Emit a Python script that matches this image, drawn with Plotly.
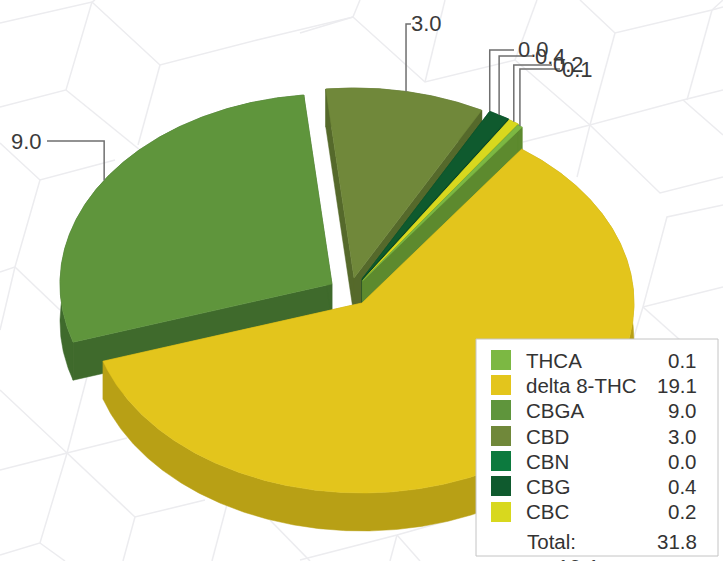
import numpy as np
import plotly.graph_objects as go

# ---- data ----
names = ["THCA", "delta 8-THC", "CBGA", "CBD", "CBN", "CBG", "CBC"]
values = [0.1, 19.1, 9.0, 3.0, 0.0, 0.4, 0.2]
labels = ["0.1", "19.1", "9.0", "3.0", "0.0", "0.4", "0.2"]
total_label = "31.8"

# ---- style ----
W, H = 723, 561
CX, CY, RX, RY = 362, 303, 272, 190   # pie centre and the tilted radii (px)
DEPTH = 38 / RY
START_ANGLE = 34.8                    # clockwise from the top
top_col = ["#7cb843", "#e3c51c", "#5f953c", "#70883a", "#0c7a3e", "#0f5a2e", "#d8d81e"]
rim_col = ["#5d8a2e", "#b8a015", "#3f6a2c", "#55692b", "#0a5a2e", "#0b4424", "#a8a818"]
wall_col = ["#5d8a2e", "#b8a015", "#3f6a2c", "#55692b", "#0a5a2e", "#0b4424", "#a8a818"]
# explosion of every slice, px
pull_px = {"THCA": (0.5, -22), "delta 8-THC": (0, 0), "CBGA": (-30, -19), "CBD": (-8, -25),
           "CBN": (0, -24), "CBG": (0, -24), "CBC": (1, -23)}
# label placement: elbow height (px), end of leader (px), left of text (px)
label_pos = {
    "CBGA": dict(y=141, x_end=47, x_text=9),
    "CBD": dict(y=24, x_end=411, x_text=409),
    "CBN": dict(y=50, x_end=514, x_text=516),
    "CBG": dict(y=56, x_end=532, x_text=533),
    "CBC": dict(y=65, x_end=552, x_text=551),
    "THCA": dict(y=69, x_end=560, x_text=560),
}
draw_order = ["CBD", "CBN", "CBG", "CBC", "THCA", "CBGA", "delta 8-THC"]

bg_lines = [
    [(0,23),(92,2),(160,65),(257,40),(353,17),(425,82),(515,60),(590,125),(683,100),(723,90)],
    [(92,2),(95,0)], [(92,2),(66,90),(0,107)], [(66,90),(140,150)], [(160,65),(138,145)],
    [(353,17),(360,0)], [(425,82),(445,0)], [(515,60),(537,0)], [(300,33),(353,17)],
    [(590,125),(523,142)], [(590,125),(577,177)], [(590,125),(660,193),(723,177)],
    [(580,0),(615,33),(712,10),(723,7)], [(615,33),(590,125)], [(712,10),(723,0)],
    [(687,100),(712,10)], [(683,100),(723,135)], [(723,205),(667,217),(643,307),(723,287)],
    [(643,307),(680,340)], [(643,307),(633,340)],
    [(0,143),(40,180),(115,160)], [(40,180),(15,267),(0,272)], [(15,267),(0,330)], [(15,267),(60,310)],
    [(0,390),(67,453),(0,470)], [(87,377),(67,453),(127,438)], [(67,453),(135,517),(205,500)],
    [(135,517),(123,561)], [(67,453),(40,543),(0,555)], [(40,543),(65,561)],
    [(230,493),(212,561)], [(270,520),(310,561)], [(300,560),(397,535),(450,520)],
    [(397,535),(420,561)], [(397,535),(390,561)],
]

# ---- geometry helpers ----
def dx(px): return px / RX
def dy(px): return -px / RY
def X(px): return (px - CX) / RX
def Y(py): return (CY - py) / RY

fractions = np.array(values) / sum(values)
spans = fractions * 360
starts = START_ANGLE + np.concatenate([[0], np.cumsum(spans)[:-1]])

fig = go.Figure()

def poly(xs, ys, col):
    fig.add_trace(go.Scatter(x=list(xs), y=list(ys), mode="lines", fill="toself",
                             fillcolor=col, line=dict(color=col, width=0.5),
                             hoverinfo="skip", showlegend=False))

def rim_point(i, ang):
    ox, oy = pull_px[names[i]]
    t = np.radians(ang)
    return dx(ox) + np.sin(t), dy(oy) + np.cos(t)

for name in draw_order:
    i = names.index(name)
    if values[i] == 0:
        continue
    ox, oy = pull_px[name]
    a0, a1 = starts[i], starts[i] + spans[i]
    ang = np.linspace(a0, a1, max(4, int(spans[i] * 2)))
    t = np.radians(ang)
    ax, ay = dx(ox), dy(oy)
    rx, ry = ax + np.sin(t), ay + np.cos(t)
    for k in (0, -1):
        poly([ax, rx[k], rx[k], ax, ax], [ay, ry[k], ry[k] - DEPTH, ay - DEPTH, ay], wall_col[i])
    poly(np.r_[rx, rx[::-1], rx[0]], np.r_[ry, ry[::-1] - DEPTH, ry[0]], rim_col[i])
    poly(np.r_[ax, rx, ax], np.r_[ay, ry, ay], top_col[i])

annotations = []
for name, p in label_pos.items():
    i = names.index(name)
    mx, my = rim_point(i, starts[i] + spans[i] / 2)
    fig.add_trace(go.Scatter(x=[mx, mx, X(p["x_end"])], y=[my, Y(p["y"]), Y(p["y"])], mode="lines",
                             line=dict(color="#6f6f6f", width=1.5), hoverinfo="skip", showlegend=False))
    annotations.append(dict(x=p["x_text"] / W, y=1 - p["y"] / H, xref="paper", yref="paper",
                            xanchor="left", yanchor="middle", showarrow=False, text=labels[i],
                            font=dict(family="Liberation Sans", size=22, color="#3a3a3a")))
annotations.append(dict(x=578 / W, y=1 - 567 / H, xref="paper", yref="paper", xanchor="center",
                        yanchor="middle", showarrow=False, text=labels[1],
                        font=dict(family="Liberation Sans", size=22, color="#3a3a3a")))

def P(x, y): return x / W, 1 - y / H
shapes = []
for seg in bg_lines:
    path = "M " + " L ".join(f"{P(*q)[0]:.4f},{P(*q)[1]:.4f}" for q in seg)
    shapes.append(dict(type="path", path=path, xref="paper", yref="paper", layer="below",
                       line=dict(color="#ececef", width=1.5)))

shapes.append(dict(type="rect", xref="paper", yref="paper", x0=476 / W, x1=718 / W,
                   y0=1 - 556 / H, y1=1 - 339 / H, fillcolor="white",
                   line=dict(color="#c4c4c4", width=1), layer="above"))
row_y = [360, 385, 410, 436, 461, 486, 512]
for i, yy in enumerate(row_y):
    shapes.append(dict(type="rect", xref="paper", yref="paper", x0=491 / W, x1=511 / W,
                       y0=1 - (yy + 10) / H, y1=1 - (yy - 10) / H, fillcolor=top_col[i],
                       line=dict(width=0), layer="above"))
    annotations.append(dict(x=523.5 / W, y=1 - yy / H, xref="paper", yref="paper", xanchor="left",
                            yanchor="middle", showarrow=False, text=names[i],
                            font=dict(family="Liberation Sans", size=20.5, color="#333")))
    annotations.append(dict(x=699 / W, y=1 - yy / H, xref="paper", yref="paper", xanchor="right",
                            yanchor="middle", showarrow=False, text=labels[i],
                            font=dict(family="Liberation Sans", size=20.5, color="#333")))
annotations.append(dict(x=525 / W, y=1 - 541 / H, xref="paper", yref="paper", xanchor="left",
                        yanchor="middle", showarrow=False, text="Total:",
                        font=dict(family="Liberation Sans", size=20.5, color="#333")))
annotations.append(dict(x=699 / W, y=1 - 541 / H, xref="paper", yref="paper", xanchor="right",
                        yanchor="middle", showarrow=False, text=total_label,
                        font=dict(family="Liberation Sans", size=20.5, color="#333")))

fig.update_layout(
    width=W, height=H, margin=dict(l=0, r=0, t=0, b=0), showlegend=False,
    paper_bgcolor="white", plot_bgcolor="rgba(0,0,0,0)", shapes=shapes, annotations=annotations,
    xaxis=dict(range=[X(0), X(W)], visible=False, fixedrange=True),
    yaxis=dict(range=[Y(H), Y(0)], visible=False, fixedrange=True),
)
fig.write_html("out.html", config={"displayModeBar": False},
               post_script="document.body.style.margin='0';")
